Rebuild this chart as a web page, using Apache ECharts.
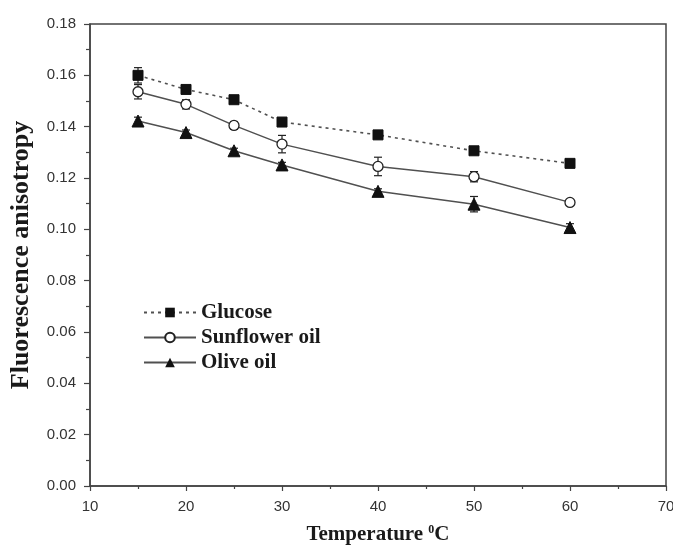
<!DOCTYPE html>
<html>
<head>
<meta charset="utf-8">
<script src="https://cdn.jsdelivr.net/npm/echarts@6/dist/echarts.min.js"></script>
<style>html,body{margin:0;padding:0;background:#fff}#c{width:673px;height:547px}</style>
</head>
<body>
<div id="c"></div>
<script>
const temps = [15, 20, 25, 30, 40, 50, 60];
const glucose = [0.160, 0.1545, 0.1505, 0.1418, 0.1368, 0.1306, 0.1257];
const sunflower = [0.1536, 0.1487, 0.1405, 0.1332, 0.1245, 0.1205, 0.1105];
const olive = [0.1422, 0.1377, 0.1306, 0.1251, 0.1148, 0.1098, 0.1007];
const glucoseErr = [0.003, 0.001, 0.001, 0.001, 0.001, 0.001, 0.001];
const sunflowerErr = [0.0028, 0.0018, 0.0015, 0.0034, 0.0036, 0.002, 0.001];
const oliveErr = [0.0015, 0.001, 0.001, 0.001, 0.001, 0.003, 0.0015];
const names = ['Glucose', 'Sunflower oil', 'Olive oil'];

const lineColor = '#505050';
const axisColor = '#444';
const serif = 'Liberation Serif';

function pairs(vals) { return temps.map((t, i) => [t, vals[i]]); }
function errData(vals, errs) { return temps.map((t, i) => [t, vals[i] - errs[i], vals[i] + errs[i]]); }

function errSeries(vals, errs) {
  return {
    type: 'custom',
    silent: true,
    z: 1,
    data: errData(vals, errs),
    renderItem: function (params, api) {
      const x = api.value(0);
      const lo = api.coord([x, api.value(1)]);
      const hi = api.coord([x, api.value(2)]);
      const w = 4;
      const st = { stroke: '#222', lineWidth: 1.2 };
      return {
        type: 'group',
        children: [
          { type: 'line', shape: { x1: lo[0], y1: lo[1], x2: hi[0], y2: hi[1] }, style: st },
          { type: 'line', shape: { x1: lo[0] - w, y1: lo[1], x2: lo[0] + w, y2: lo[1] }, style: st },
          { type: 'line', shape: { x1: hi[0] - w, y1: hi[1], x2: hi[0] + w, y2: hi[1] }, style: st }
        ]
      };
    }
  };
}

const chart = echarts.init(document.getElementById('c'));
chart.setOption({
  animation: false,
  backgroundColor: '#fff',
  grid: { left: 90, right: 7, top: 24, bottom: 61, show: true, borderColor: axisColor, borderWidth: 1.5, outerBoundsMode: 'none', containLabel: false },
  legend: {
    data: names,
    orient: 'vertical',
    left: 138,
    top: 297,
    itemWidth: 52,
    itemHeight: 12,
    itemGap: 4,
    textStyle: { fontFamily: serif, fontWeight: 'bold', fontSize: 21, color: '#1a1a1a' }
  },
  xAxis: {
    type: 'value', min: 10, max: 70, interval: 10,
    name: 'Temperature {sup|0}C',
    nameLocation: 'middle', nameGap: 38,
    nameTextStyle: {
      fontFamily: serif, fontWeight: 'bold', fontSize: 21, color: '#1a1a1a',
      rich: { sup: { fontFamily: serif, fontWeight: 'bold', fontSize: 12, color: '#1a1a1a', verticalAlign: 'top', padding: [0, 0, 10, 0] } }
    },
    axisLine: { show: true, onZero: false, lineStyle: { color: axisColor, width: 1.5 } },
    axisTick: { show: true, length: 5, lineStyle: { color: axisColor, width: 1.2 } },
    minorTick: { show: true, splitNumber: 2, length: 3, lineStyle: { color: axisColor, width: 1.2 } },
    splitLine: { show: false },
    axisLabel: { fontFamily: 'Liberation Sans', fontSize: 15, color: '#333', margin: 13 }
  },
  yAxis: {
    type: 'value', min: 0, max: 0.18, interval: 0.02,
    name: 'Fluorescence anisotropy',
    nameLocation: 'middle', nameGap: 56, nameRotate: 90,
    nameTextStyle: { fontFamily: serif, fontWeight: 'bold', fontSize: 26, color: '#1a1a1a' },
    axisLine: { show: true, onZero: false, lineStyle: { color: axisColor, width: 1.5 } },
    axisTick: { show: true, length: 6, lineStyle: { color: axisColor, width: 1.2 } },
    minorTick: { show: true, splitNumber: 2, length: 4, lineStyle: { color: axisColor, width: 1.2 } },
    splitLine: { show: false },
    axisLabel: { fontFamily: 'Liberation Sans', fontSize: 15, color: '#333', margin: 14, formatter: v => v.toFixed(2) }
  },
  series: [
    errSeries(glucose, glucoseErr),
    errSeries(sunflower, sunflowerErr),
    errSeries(olive, oliveErr),
    {
      name: names[0], type: 'line', data: pairs(glucose), z: 3,
      symbol: 'rect', symbolSize: 10,
      itemStyle: { color: '#111', borderColor: '#111' },
      lineStyle: { color: lineColor, width: 1.6, type: [3, 4] }
    },
    {
      name: names[1], type: 'line', data: pairs(sunflower), z: 3,
      symbol: 'circle', symbolSize: 10,
      itemStyle: { color: '#fff', borderColor: '#222', borderWidth: 1.3 },
      lineStyle: { color: lineColor, width: 1.5 }
    },
    {
      name: names[2], type: 'line', data: pairs(olive), z: 3,
      symbol: 'triangle', symbolSize: 12,
      itemStyle: { color: '#111', borderColor: '#111' },
      lineStyle: { color: lineColor, width: 1.5 }
    }
  ]
});
</script>
</body>
</html>
